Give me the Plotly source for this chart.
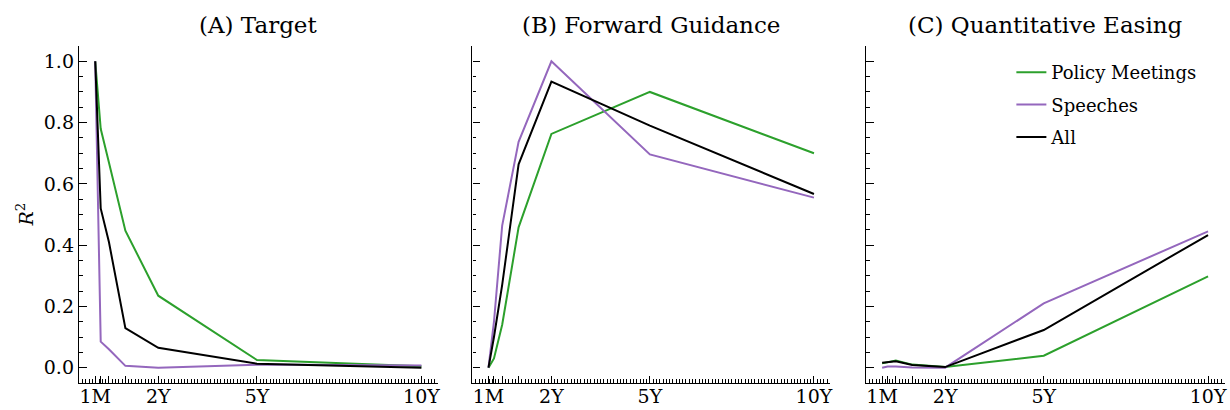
import plotly.graph_objects as go

maturities = [1/12, 0.25, 0.5, 1, 2, 5, 10]
label_vals = [1/12, 2, 5, 10]
label_text = ["1M", "2Y", "5Y", "10Y"]
plain_vals = [0.25, 0.5, 1]

target_policy = [1.0, 0.78, 0.67, 0.447, 0.235, 0.025, 0.005]
target_speech = [1.0, 0.085, 0.06, 0.006, 0.0, 0.01, 0.007]
target_all = [1.0, 0.52, 0.41, 0.129, 0.065, 0.013, 0.0]

fg_policy = [0.0, 0.03, 0.14, 0.458, 0.763, 0.90, 0.70]
fg_speech = [0.0, 0.15, 0.464, 0.737, 1.0, 0.696, 0.555]
fg_all = [0.0, 0.10, 0.27, 0.664, 0.934, 0.79, 0.567]

qe_policy = [0.014, 0.017, 0.023, 0.01, 0.002, 0.039, 0.298]
qe_speech = [0.0, 0.004, 0.004, 0.001, 0.0, 0.21, 0.445]
qe_all = [0.016, 0.018, 0.021, 0.009, 0.002, 0.123, 0.433]

titles = ["(A) Target", "(B) Forward Guidance", "(C) Quantitative Easing"]
series_names = ["Policy Meetings", "Speeches", "All"]
colors = ["#2ca02c", "#9467bd", "#000000"]

panels = [
    [target_policy, target_speech, target_all],
    [fg_policy, fg_speech, fg_all],
    [qe_policy, qe_speech, qe_all],
]

W, H = 1230, 410
FONT = "DejaVu Serif"
TICK_SIZE = 19
ML, MR, MT, MB = 79, 3, 46, 25
pw = W - ML - MR
ph = H - MT - MB
px_doms = [(79, 438.5), (473, 831.7), (867.3, 1226.5)]
doms = [((a - ML) / pw, (b - ML) / pw) for a, b in px_doms]
XR = [-0.41, 10.5]

fig = go.Figure()
for i, data in enumerate(panels):
    xa = "x" if i == 0 else f"x{i+1}"
    ya = "y" if i == 0 else f"y{i+1}"
    for j, vals in enumerate(data):
        fig.add_trace(go.Scatter(
            x=maturities, y=vals, mode="lines", name=series_names[j],
            line=dict(color=colors[j], width=2),
            xaxis=xa, yaxis=ya, showlegend=(i == 2),
            legendgroup=series_names[j],
        ))
    # empty helper traces so the overlay tick axes get drawn
    for k in (3, 6):
        fig.add_trace(go.Scatter(x=[None], y=[None], mode="lines", showlegend=False,
                                 hoverinfo="skip", xaxis=f"x{k + i + 1}", yaxis=ya))

tickfont = dict(family=FONT, size=TICK_SIZE, color="black")

axis_minor_x = dict(
    range=XR, tickmode="linear", tick0=0, dtick=0.1, showticklabels=False,
    ticks="inside", ticklen=4, tickwidth=1.1, tickcolor="black",
    showline=True, linecolor="black", linewidth=1.4, showgrid=False, zeroline=False,
)
axis_label_x = dict(
    range=XR, tickmode="array", tickvals=label_vals, ticktext=label_text,
    ticks="inside", ticklen=7, tickwidth=1.2, tickcolor="black",
    showline=False, showgrid=False, zeroline=False, tickfont=tickfont, side="bottom",
)
axis_plain_x = dict(
    range=XR, tickmode="array", tickvals=plain_vals, showticklabels=False,
    ticks="inside", ticklen=7, tickwidth=1.2, tickcolor="black",
    showline=False, showgrid=False, zeroline=False, side="bottom",
)
axis_common_y = dict(
    range=[-0.05, 1.05], tickmode="linear", tick0=0, dtick=0.2, tickformat=".1f",
    ticks="inside", ticklen=7.5, tickwidth=1.2, tickcolor="black",
    showline=True, linecolor="black", linewidth=1.4, showgrid=False, zeroline=False,
    tickfont=tickfont,
    minor=dict(tickmode="linear", tick0=0, dtick=0.05, ticks="inside", ticklen=3.7,
               tickwidth=1, tickcolor="black", showgrid=False),
)

layout = dict(
    width=W, height=H, margin=dict(l=ML, r=MR, t=MT, b=MB),
    plot_bgcolor="white", paper_bgcolor="white",
    font=dict(family=FONT, color="black"),
    legend=dict(x=(1013 - ML) / pw, y=(H - MB - 54) / ph, xanchor="left", yanchor="top",
                bgcolor="rgba(0,0,0,0)", font=dict(family=FONT, size=18, color="black"),
                tracegroupgap=6),
    showlegend=True,
)
for i in range(3):
    n = i + 1
    xk = "xaxis" if i == 0 else f"xaxis{n}"
    yk = "yaxis" if i == 0 else f"yaxis{n}"
    xid = "x" if i == 0 else f"x{n}"
    yid = "y" if i == 0 else f"y{n}"
    layout[xk] = dict(axis_minor_x, domain=list(doms[i]), anchor=yid)
    layout[f"xaxis{3 + n}"] = dict(axis_label_x, domain=list(doms[i]), anchor=yid, overlaying=xid)
    layout[f"xaxis{6 + n}"] = dict(axis_plain_x, domain=list(doms[i]), anchor=yid, overlaying=xid)
    yd = dict(axis_common_y, domain=[0, 1], anchor=xid)
    if i > 0:
        yd["showticklabels"] = False
        yd["matches"] = "y"
    layout[yk] = yd
fig.update_layout(**layout)

annotations = []
for i, t in enumerate(titles):
    a, b = doms[i]
    annotations.append(dict(text=t, x=(a + b) / 2, y=1, xref="paper", yref="paper",
                            xanchor="center", yanchor="bottom", yshift=6, showarrow=False,
                            font=dict(family=FONT, size=23, color="black")))
annotations.append(dict(text="<i>R</i><sup>2</sup>", x=(24 - ML) / pw, y=0.5,
                        xref="paper", yref="paper", textangle=-90, showarrow=False,
                        xanchor="center", yanchor="middle",
                        font=dict(family=FONT, size=TICK_SIZE, color="black")))
fig.update_layout(annotations=annotations)

fig.write_html("out.html")
